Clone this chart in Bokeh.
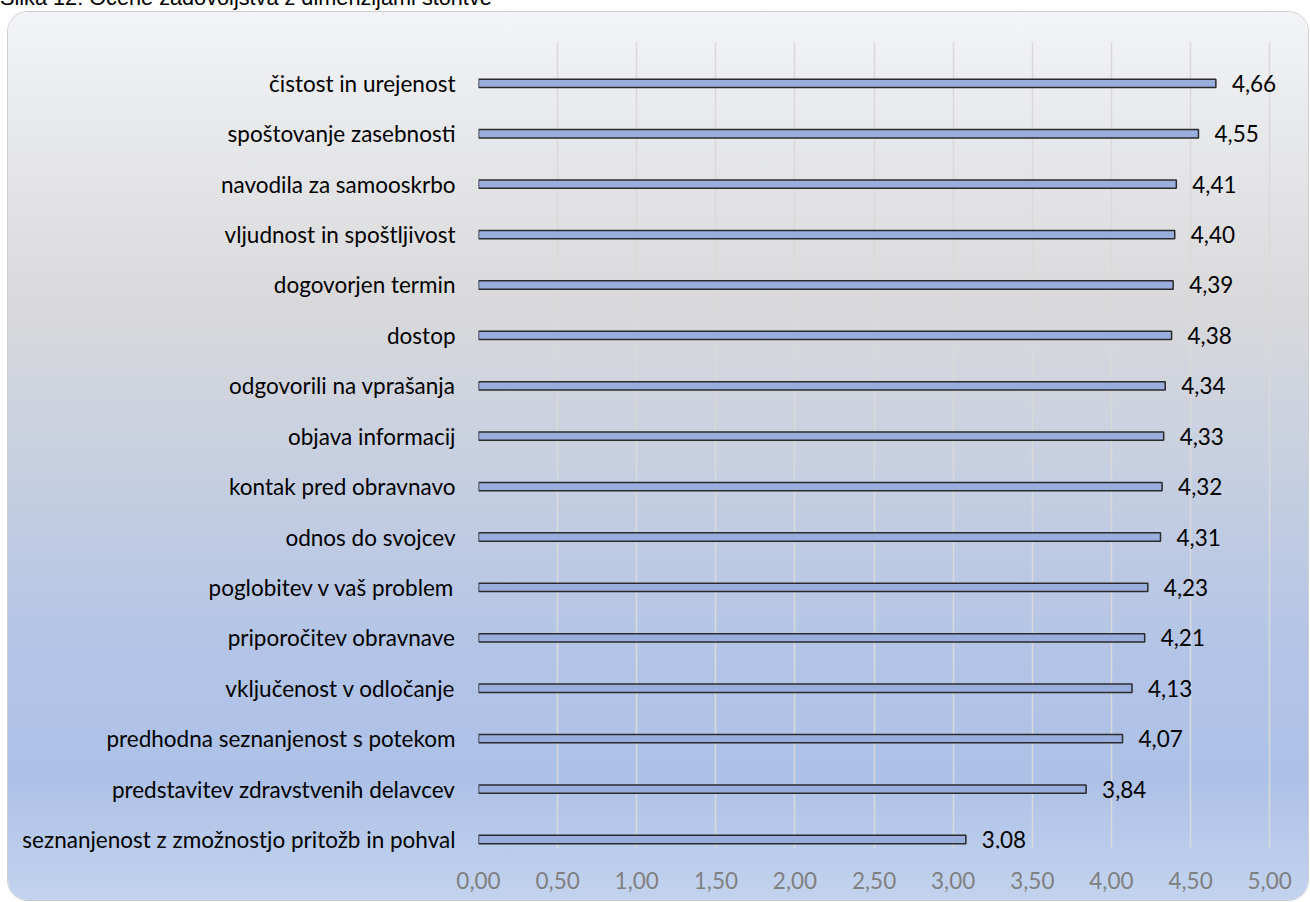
from bokeh.plotting import figure
from bokeh.models import Range1d, FixedTicker, Div, ColumnDataSource, CustomJSTickFormatter
from bokeh.layouts import column
from bokeh.embed import file_html
from bokeh.resources import INLINE
from bokeh.core.properties import value

# ---- data (top to bottom as shown) ----
categories = [
    "čistost in urejenost",
    "spoštovanje zasebnosti",
    "navodila za samooskrbo",
    "vljudnost in spoštljivost",
    "dogovorjen termin",
    "dostop",
    "odgovorili na vprašanja",
    "objava informacij",
    "kontak pred obravnavo",
    "odnos do svojcev",
    "poglobitev v vaš problem",
    "priporočitev obravnave",
    "vključenost v odločanje",
    "predhodna seznanjenost s potekom",
    "predstavitev zdravstvenih delavcev",
    "seznanjenost z zmožnostjo pritožb in pohval",
]
scores = [4.66, 4.55, 4.41, 4.40, 4.39, 4.38, 4.34, 4.33, 4.32, 4.31,
          4.23, 4.21, 4.13, 4.07, 3.84, 3.08]
x_ticks = [0.0, 0.5, 1.0, 1.5, 2.0, 2.5, 3.0, 3.5, 4.0, 4.5, 5.0]
title_text = "Slika 12: Ocene zadovoljstva z dimenzijami storitve"

FONT = "Lato"
FSIZE = "22.5px"

cats_bt = categories[::-1]
vals_bt = scores[::-1]
ypos = list(range(len(cats_bt)))
val_labels = [f"{v:.2f}".replace(".", ",") for v in vals_bt]
src = ColumnDataSource(dict(y=ypos, v=vals_bt, cat=cats_bt, lab=val_labels))

p = figure(
    width=1300, height=888,
    x_range=Range1d(0, 5.1), y_range=Range1d(-0.179, 15.81),
    output_backend="svg", toolbar_location=None,
    min_border_left=470, min_border_right=23,
    min_border_top=30, min_border_bottom=52,
)
p.background_fill_color = None
p.border_fill_color = None
p.outline_line_color = None
p.margin = (0, 0, 0, 8)
p.styles = {
    "border-radius": "20px",
    "background": "linear-gradient(to bottom, #f3f4f8 0%, #e6e7ea 15%, #d9d9db 33%, #c6cfe1 52%, #b3c4e6 72%, #adc1e7 86%, #c3d3ee 100%)",
    "box-shadow": "0 0 0 1px #cfcfcf",
}

p.hbar(y="y", right="v", left=0, height=0.165, source=src,
       fill_color="#9aaede", line_color="#2b2b2b", line_width=1.5)

p.text(x="v", y="y", text="lab", source=src, x_offset=16,
       text_align="left", text_baseline="middle",
       text_font=value(FONT), text_font_size=FSIZE, text_color="#000000")

# x axis
p.xaxis.ticker = FixedTicker(ticks=x_ticks)
p.xaxis.formatter = CustomJSTickFormatter(code="return tick.toFixed(2).replace('.', ',');")
p.xaxis.axis_line_color = None
p.xaxis.major_tick_line_color = None
p.xaxis.minor_tick_line_color = None
p.xaxis.major_label_text_font = FONT
p.xaxis.major_label_text_font_size = FSIZE
p.xaxis.major_label_text_color = "#808080"
p.xaxis.major_label_standoff = 17

# y axis
p.yaxis.ticker = FixedTicker(ticks=ypos)
p.yaxis.major_label_overrides = {i: c for i, c in zip(ypos, cats_bt)}
p.yaxis.axis_line_color = None
p.yaxis.major_tick_line_color = None
p.yaxis.minor_tick_line_color = None
p.yaxis.major_label_text_font = FONT
p.yaxis.major_label_text_font_size = FSIZE
p.yaxis.major_label_text_color = "#000000"
p.yaxis.major_label_standoff = 17

# grid
p.xgrid.ticker = FixedTicker(ticks=x_ticks)
p.xgrid.grid_line_color = "#d9d9d9"
p.xgrid.grid_line_width = 1.5
p.ygrid.grid_line_color = None

title_div = Div(
    text=(f'<div style="position:relative; top:-13px; white-space:nowrap; '
          f'font-family:\'Liberation Sans\', Arial, sans-serif; font-size:21.7px; '
          f'line-height:22px; color:#000;">{title_text}</div>'),
    width=1310, height=12, margin=(0, 0, 0, 0),
    styles={"overflow": "hidden"},
)

layout = column(title_div, p, spacing=0)

open("out.html", "w").write(file_html(layout, INLINE))
